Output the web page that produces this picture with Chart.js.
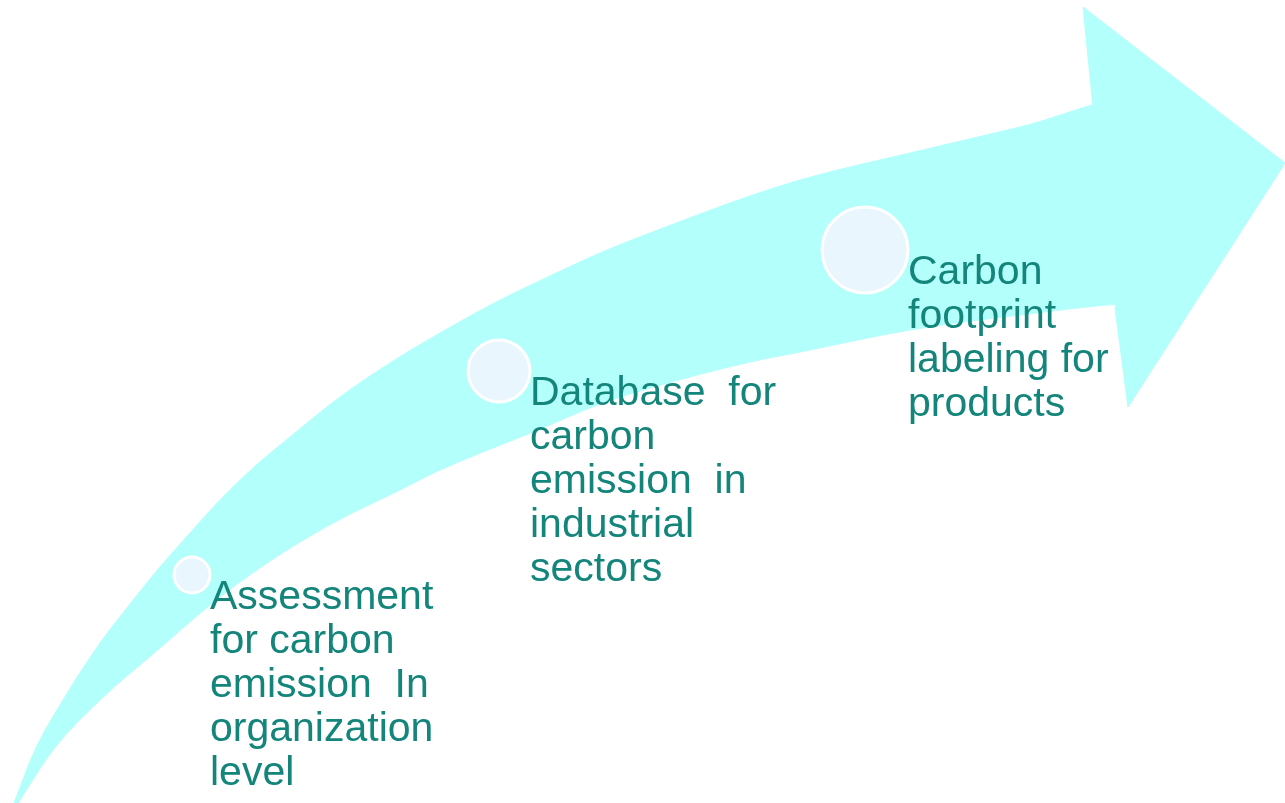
<!DOCTYPE html>
<html>
<head>
<meta charset="utf-8">
<script src="https://cdn.jsdelivr.net/npm/chart.js@4/dist/chart.umd.min.js"></script>
<style>
  html, body { margin: 0; padding: 0; background: #fff; }
  #wrap { width: 1285px; height: 803px; position: relative; }
</style>
</head>
<body>
<div id="wrap"><canvas id="chart"></canvas></div>
<script>
// Arrow body outline (x, y in picture units)
const upperEdge = [[14,803],[35,750],[63,700],[100,643],[130,604],[160,567],[190,533],[220,500],[253,468],[290,437],[340,397],[390,363],[440,333],[500,300],[550,276],[600,253],[650,233],[750,196],[800,180],[850,167],[910,153],[1020,127],[1150,95]];
const lowerEdge = [[1150,303],[1020,315],[910,330],[800,352],[750,362],[650,388],[600,404],[533,432],[440,470],[400,490],[333,523],[267,563],[210,605],[160,648],[100,700],[53,750],[18,803]];
// Arrow head corners
const arrowHead = [[1093,107],[1083,7],[1285,163],[1128,407],[1115,308]];

// Step markers
const stepX = [192, 499, 865];
const stepY = [575, 371, 250];
const stepR = [18, 31, 43];

// Step labels (one entry per line)
const stepLabels = [
  ['Assessment', 'for carbon', 'emission  In', 'organization', 'level'],
  ['Database  for', 'carbon', 'emission  in', 'industrial', 'sectors'],
  ['Carbon', 'footprint', 'labeling for', 'products']
];

const arrowColor = '#b2fffc';
const textColor = '#14857b';

const toPoints = list => list.map(p => ({ x: p[0], y: p[1] }));

// Draws the label text next to each marker
const labelPlugin = {
  id: 'stepLabels',
  afterDatasetsDraw(chart) {
    const ctx = chart.ctx;
    const xs = chart.scales.x, ys = chart.scales.y;
    ctx.save();
    ctx.fillStyle = textColor;
    ctx.font = '41px "Liberation Sans", Arial, sans-serif';
    ctx.textBaseline = 'alphabetic';
    ctx.textAlign = 'left';
    stepLabels.forEach((lines, i) => {
      const left = xs.getPixelForValue(stepX[i]) + stepR[i];
      const base = ys.getPixelForValue(stepY[i]) + 34;
      lines.forEach((line, j) => {
        ctx.fillText(line, left, base + j * 44);
      });
    });
    ctx.restore();
  }
};

new Chart(document.getElementById('chart'), {
  type: 'scatter',
  data: {
    datasets: [
      {
        // markers
        data: stepX.map((x, i) => ({ x: x, y: stepY[i] })),
        pointRadius: stepR,
        pointBackgroundColor: '#eaf6fd',
        pointBorderColor: '#ffffff',
        pointBorderWidth: 3,
        clip: false
      },
      {
        // curved body
        data: toPoints(upperEdge.concat(lowerEdge)),
        showLine: true,
        fill: 'shape',
        cubicInterpolationMode: 'monotone',
        backgroundColor: arrowColor,
        borderColor: arrowColor,
        borderWidth: 1,
        pointRadius: 0,
        clip: false
      },
      {
        // head
        data: toPoints(arrowHead),
        showLine: true,
        fill: 'shape',
        tension: 0,
        backgroundColor: arrowColor,
        borderColor: arrowColor,
        borderWidth: 1,
        pointRadius: 0,
        clip: false
      }
    ]
  },
  options: {
    responsive: true,
    maintainAspectRatio: false,
    animation: false,
    layout: { padding: 0, autoPadding: false },
    plugins: {
      legend: { display: false },
      tooltip: { enabled: false }
    },
    scales: {
      x: { type: 'linear', min: 0, max: 1285, display: false },
      y: { type: 'linear', min: 0, max: 803, reverse: true, display: false }
    }
  },
  plugins: [labelPlugin]
});
</script>
</body>
</html>
